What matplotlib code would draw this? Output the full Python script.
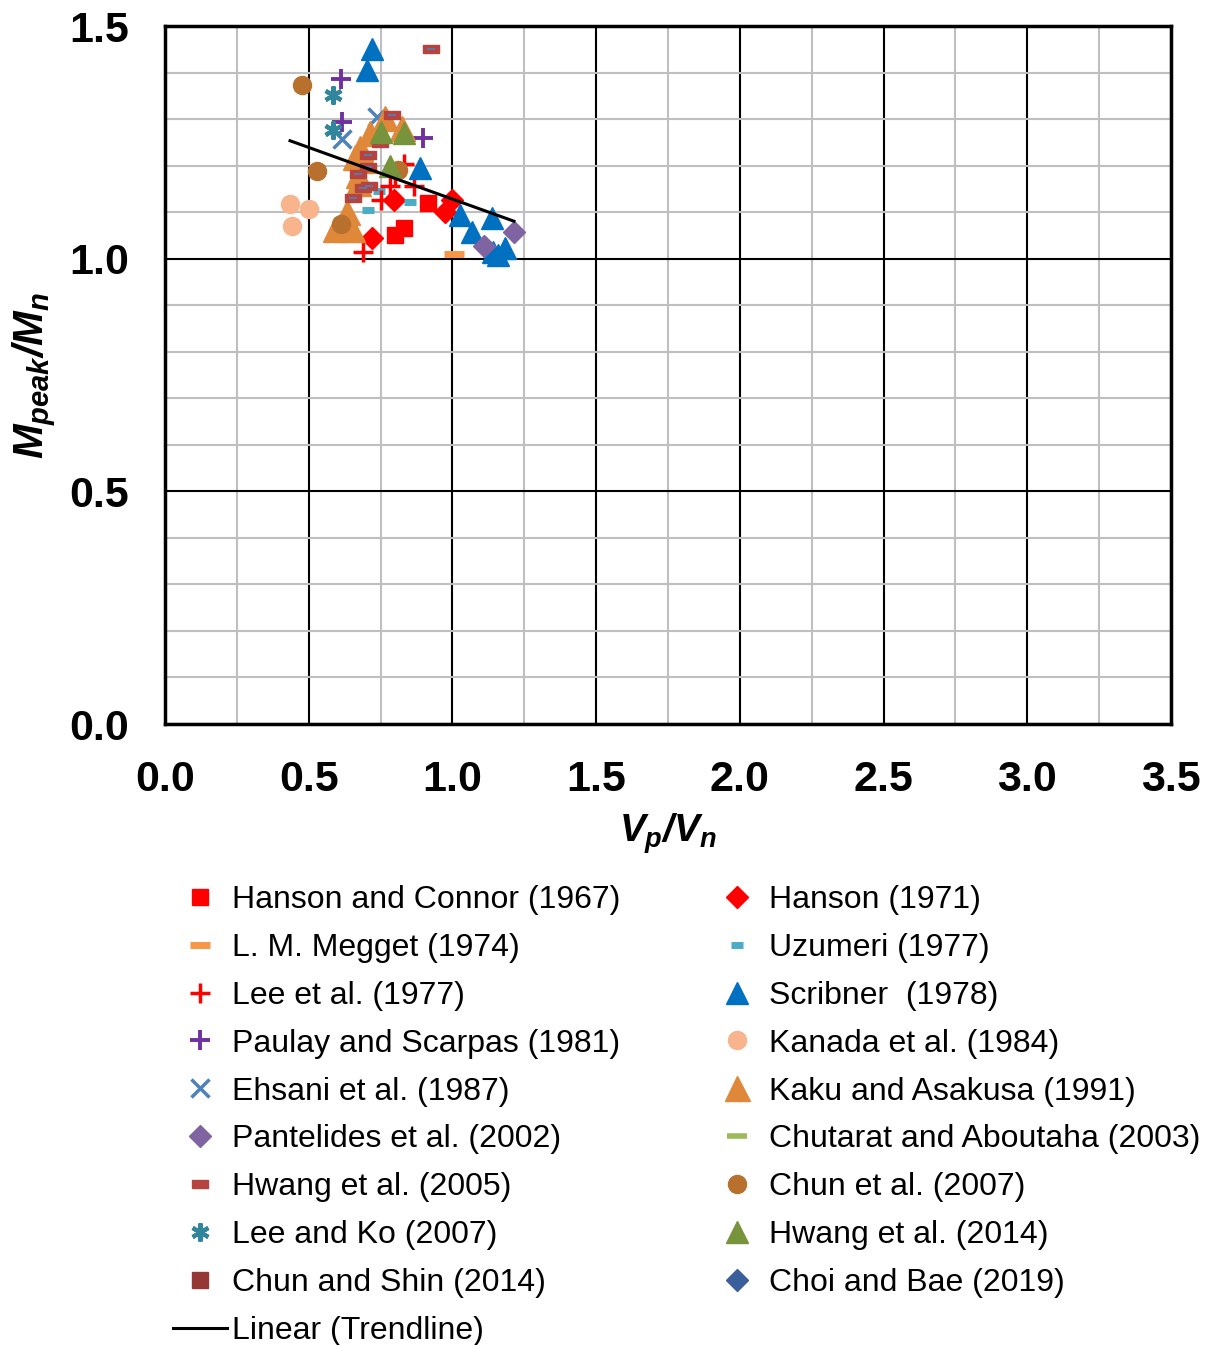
import numpy as np
import matplotlib
matplotlib.use("Agg")
import matplotlib.pyplot as plt

plt.rcParams['font.family'] = ['Liberation Sans', 'DejaVu Sans']
plt.rcParams['mathtext.fontset'] = 'custom'
plt.rcParams['mathtext.it'] = 'Liberation Sans:bold:italic'
plt.rcParams['mathtext.rm'] = 'Liberation Sans:bold:italic'
plt.rcParams['mathtext.bf'] = 'Liberation Sans:bold:italic'

# data (Vp/Vn, Mpeak/Mn)
hanson_connor_x = [0.80, 0.83, 0.915]
hanson_connor_y = [1.05, 1.065, 1.12]
hanson71_x = [0.72, 0.797, 0.974, 0.999]
hanson71_y = [1.045, 1.126, 1.10, 1.126]
megget_x = [1.006]
megget_y = [1.010]
uzumeri_x = [0.706, 0.745, 0.852]
uzumeri_y = [1.105, 1.146, 1.122]
lee77_x = [0.689, 0.752, 0.783, 0.832, 0.866, 0.80]
lee77_y = [1.014, 1.126, 1.156, 1.204, 1.156, 1.180]
scribner_x = [0.720, 0.703, 0.887, 1.026, 1.138, 1.068, 1.141, 1.183, 1.16]
scribner_y = [1.451, 1.405, 1.195, 1.094, 1.087, 1.057, 1.014, 1.023, 1.008]
paulay_x = [0.612, 0.616, 0.898]
paulay_y = [1.386, 1.294, 1.259]
kanada_x = [0.435, 0.501, 0.442]
kanada_y = [1.118, 1.107, 1.070]
ehsani_x = [0.616, 0.738]
ehsani_y = [1.257, 1.305]
kaku_x = [0.626, 0.592, 0.651, 0.633, 0.672, 0.672, 0.678, 0.661, 0.713, 0.765, 0.825, 0.696]
kaku_y = [1.072, 1.064, 1.064, 1.100, 1.163, 1.180, 1.238, 1.219, 1.270, 1.302, 1.281, 1.212]
pantelides_x = [1.214, 1.110]
pantelides_y = [1.057, 1.027]
chutarat_x = []
chutarat_y = []
hwang05_x = [0.925, 0.790, 0.748, 0.706, 0.706, 0.672, 0.689, 0.710, 0.654]
hwang05_y = [1.451, 1.309, 1.249, 1.223, 1.197, 1.182, 1.152, 1.156, 1.130]
chun07_x = [0.477, 0.529, 0.612, 0.811]
chun07_y = [1.373, 1.188, 1.075, 1.190]
leeko_x = [0.585, 0.585]
leeko_y = [1.352, 1.277]
hwang14_x = [0.752, 0.832, 0.783]
hwang14_y = [1.272, 1.270, 1.199]
chunshin_x = []
chunshin_y = []
choibae_x = []
choibae_y = []

# trendline y = a*x + b
trend_a = -0.222
trend_b = 1.350

rect = [(-1, -0.55), (1, -0.55), (1, 0.55), (-1, 0.55), (-1, -0.55)]

fig = plt.figure(figsize=(12.08, 13.45), dpi=100)
ax = fig.add_axes([165/1208, 1-724/1345, 1006/1208, 698/1345])

series = [
    ("Hanson and Connor (1967)", hanson_connor_x, hanson_connor_y, dict(marker='s', ms=12, color='#FF0000')),
    ("Hanson (1971)", hanson71_x, hanson71_y, dict(marker='D', ms=11, color='#FF0000')),
    ("L. M. Megget (1974)", megget_x, megget_y, dict(marker='_', ms=14, mew=5, color='#F79646')),
    ("Uzumeri (1977)", uzumeri_x, uzumeri_y, dict(marker='_', ms=9, mew=5, color='#4BACC6')),
    ("Lee et al. (1977)", lee77_x, lee77_y, dict(marker='+', ms=14, mew=2.5, color='#FF0000')),
    ("Scribner  (1978)", scribner_x, scribner_y, dict(marker='^', ms=16, color='#0070C0')),
    ("Paulay and Scarpas (1981)", paulay_x, paulay_y, dict(marker='+', ms=15, mew=2.8, color='#7030A0')),
    ("Kanada et al. (1984)", kanada_x, kanada_y, dict(marker='o', ms=13, color='#F8B48C')),
    ("Ehsani et al. (1987)", ehsani_x, ehsani_y, dict(marker='x', ms=13, mew=2.5, color='#4F81BD')),
    ("Kaku and Asakusa (1991)", kaku_x, kaku_y, dict(marker='^', ms=18, color='#E0883A')),
    ("Pantelides et al. (2002)", pantelides_x, pantelides_y, dict(marker='D', ms=11, color='#8064A2')),
    ("Chutarat and Aboutaha (2003)", chutarat_x, chutarat_y, dict(marker='_', ms=14, mew=4, color='#9BBB59')),
    ("Hwang et al. (2005)", hwang05_x, hwang05_y, dict(marker=rect, ms=11, color='#B5433F')),
    ("Chun et al. (2007)", chun07_x, chun07_y, dict(marker='o', ms=13, color='#B8702E')),
    ("Lee and Ko (2007)", leeko_x, leeko_y, dict(marker=(6, 2, 0), ms=13, mew=3, color='#31859C')),
    ("Hwang et al. (2014)", hwang14_x, hwang14_y, dict(marker='^', ms=16, color='#77933C')),
    ("Chun and Shin (2014)", chunshin_x, chunshin_y, dict(marker='s', ms=12, color='#953735')),
    ("Choi and Bae (2019)", choibae_x, choibae_y, dict(marker='D', ms=11, color='#3A5F9B')),
]

handles = []
for label, xs, ys, st in series:
    h, = ax.plot(xs, ys, linestyle='none', label=label, **st)
    handles.append(h)
    if label == "Hwang et al. (2005)":
        ax.plot(xs, ys, linestyle='none', marker='_', ms=6, mew=1.2, color='#4F81BD')

all_x = np.concatenate([np.array(s[1], dtype=float) for s in series])
tx = np.array([all_x.min(), all_x.max()])
line, = ax.plot(tx, trend_a*tx + trend_b, color='black', lw=2.2, label='Linear (Trendline)')

ax.set_xlim(0, 3.5)
ax.set_ylim(0, 1.5)
ax.set_xticks(np.arange(0, 3.51, 0.5))
ax.set_yticks(np.arange(0, 1.51, 0.5))
ax.set_xticks(np.arange(0, 3.51, 0.25), minor=True)
ax.set_yticks(np.arange(0, 1.51, 0.1), minor=True)
ax.set_xticklabels(['%.1f' % v for v in np.arange(0, 3.51, 0.5)])
ax.set_yticklabels(['%.1f' % v for v in np.arange(0, 1.51, 0.5)])
ax.grid(which='minor', color='#BFBFBF', lw=1.5)
ax.grid(which='major', color='black', lw=1.5)
ax.set_axisbelow(True)
ax.tick_params(which='both', length=0)
ax.tick_params(axis='x', pad=26, labelsize=31)
ax.tick_params(axis='y', pad=26, labelsize=31)
for lab in ax.get_xticklabels() + ax.get_yticklabels():
    lab.set_fontweight('bold')
for sp in ax.spines.values():
    sp.set_linewidth(2.5)
    sp.set_color('black')

ax.set_xlabel(r'$V_p/V_n$', fontsize=28, labelpad=8)
ax.set_ylabel(r'$M_{peak}/M_n$', fontsize=30, labelpad=8)

# order legend row by row (two columns)
order = handles[0::2] + [line] + handles[1::2]
fig.legend(handles=order, labels=[h.get_label() for h in order], ncol=2,
           loc='upper left', bbox_to_anchor=(173/1208, 1-885/1345),
           frameon=False, fontsize=23, handlelength=1.7, handletextpad=0.15,
           columnspacing=2.8, labelspacing=0.56, borderpad=0, borderaxespad=0,
           numpoints=1)

fig.savefig('out.png', dpi=100)
